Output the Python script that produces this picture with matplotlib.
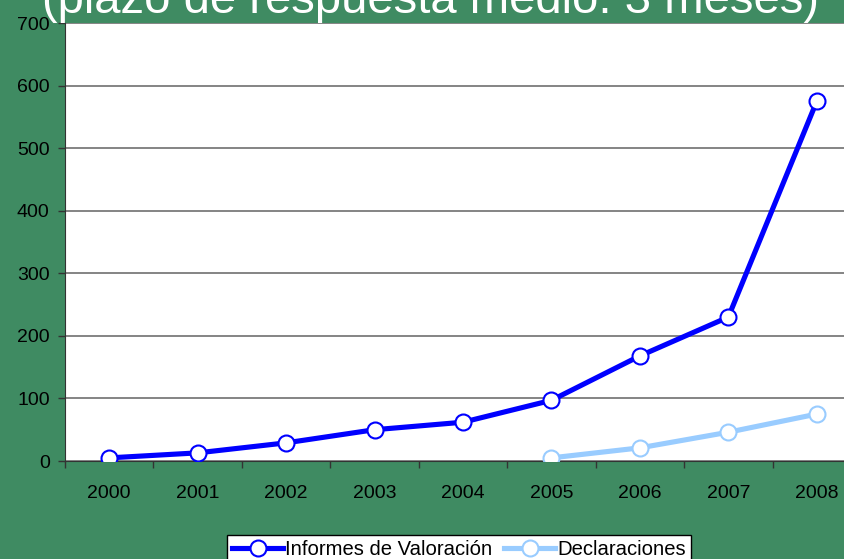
import matplotlib.pyplot as plt

plt.rcParams['font.family'] = ['Liberation Sans', 'DejaVu Sans']

years = ['2000', '2001', '2002', '2003', '2004', '2005', '2006', '2007', '2008']
informes = [5, 13, 29, 50, 62, 97, 168, 230, 575]
declaraciones_years = ['2005', '2006', '2007', '2008']
declaraciones = [5, 21, 46, 75]
title = '(plazo de respuesta medio: 3 meses)'

fig = plt.figure(figsize=(8.45, 5.59), dpi=100)
fig.patch.set_facecolor('#3f8b62')

ax = fig.add_axes([65/845, 98/559, 796/845, 438/559])
ax.set_facecolor('white')

x = list(range(len(years)))
xd = [years.index(y) for y in declaraciones_years]

ax.plot(x, informes, color='#0000ff', lw=3.7, marker='o', ms=11.5,
        mfc='white', mec='#0000ff', mew=1.5, label='Informes de Valoración', zorder=3)
ax.plot(xd, declaraciones, color='#99ccff', lw=3.7, marker='o', ms=11.5,
        mfc='white', mec='#99ccff', mew=1.5, label='Declaraciones', zorder=3)

ax.set_xlim(-0.5, len(years) - 0.5)
ax.set_ylim(0, 700)
ax.set_yticks(range(0, 701, 100))
ax.yaxis.grid(True, color='#707070', lw=1.2)
ax.set_axisbelow(True)

# labels centred on categories, ticks on boundaries
ax.set_xticks(x)
ax.set_xticklabels(years)
ax.set_xticks([i - 0.5 for i in range(len(years) + 1)], minor=True)
ax.tick_params(axis='x', which='major', length=0, pad=17, labelsize=14)
ax.tick_params(axis='x', which='minor', length=5, width=1, color='#333333', direction='out')
ax.tick_params(axis='y', length=5, width=1, color='#333333', pad=6, labelsize=14)

for s in ['top', 'right']:
    ax.spines[s].set_visible(False)
ax.spines['left'].set_color('#333333')
ax.spines['bottom'].set_color('#333333')

fig.text(431/845, 1.0 - 13/559, title, color='white', fontsize=34,
         ha='center', va='baseline')

leg = fig.legend(loc='upper center', bbox_to_anchor=(459/845, 1 - 535/559),
                 ncol=2, fontsize=14.6, frameon=True, fancybox=False,
                 edgecolor='black', framealpha=1, handlelength=2.5,
                 handletextpad=0.1, columnspacing=0.6, borderpad=0.25,
                 borderaxespad=0)
leg.get_frame().set_linewidth(1)

fig.savefig('out.png', dpi=100, facecolor=fig.get_facecolor())
